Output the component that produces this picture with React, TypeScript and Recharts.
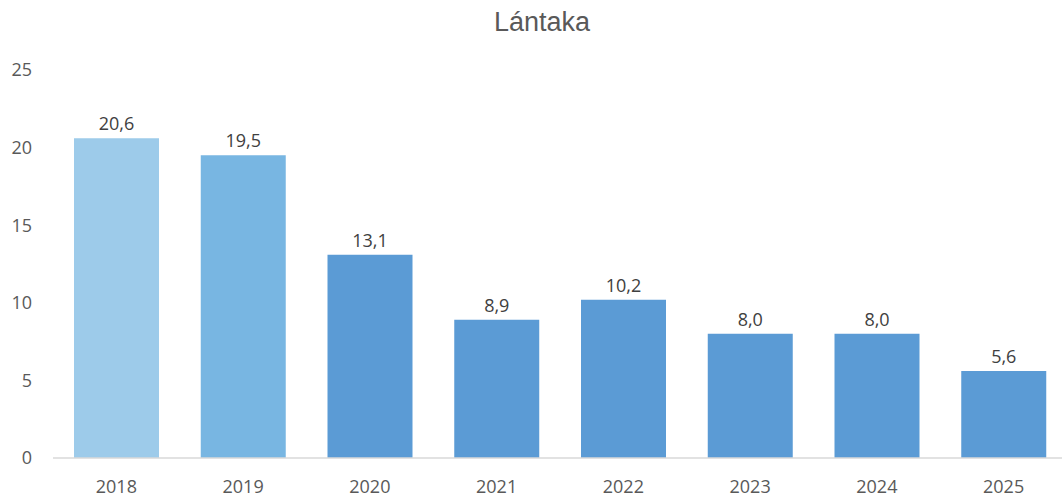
import { Bar, BarChart, Cell, LabelList, XAxis, YAxis } from "recharts";

const years = ["2018", "2019", "2020", "2021", "2022", "2023", "2024", "2025"];
const values = [20.6, 19.5, 13.1, 8.9, 10.2, 8.0, 8.0, 5.6];
const barColors = [
  "#9DCBEA",
  "#78B6E2",
  "#5B9BD5",
  "#5B9BD5",
  "#5B9BD5",
  "#5B9BD5",
  "#5B9BD5",
  "#5B9BD5",
];
const yTicks = [0, 5, 10, 15, 20, 25];

const data = years.map((year, i) => ({ year, value: values[i] }));

const tickFont = { fontFamily: "'Open Sans', sans-serif", fontSize: 18, fill: "#595959" };

// decimal comma, one digit
const fmt = (v: number) => v.toFixed(1).replace(".", ",");

export default function App() {
  return (
    <div
      style={{
        position: "absolute",
        left: 0,
        top: 0,
        width: 1062,
        height: 497,
        overflow: "hidden",
        background: "#fff",
      }}
    >
      <BarChart
        width={1068}
        height={497}
        data={data}
        margin={{ top: 70, right: 1, bottom: 0, left: 0 }}
      >
        <text
          x={542}
          y={31}
          textAnchor="middle"
          style={{ fontFamily: "'Liberation Sans', Arial, sans-serif", fontSize: 27, fill: "#595959" }}
        >
          Lántaka
        </text>
        <XAxis
          dataKey="year"
          height={39}
          tick={tickFont}
          tickLine={false}
          tickSize={0}
          tickMargin={22}
          axisLine={{ stroke: "#D9D9D9", strokeWidth: 1.5 }}
        />
        <YAxis
          domain={[0, 25]}
          ticks={yTicks}
          width={53}
          tick={tickFont}
          tickLine={false}
          tickSize={0}
          tickMargin={21}
          axisLine={false}
        />
        <Bar dataKey="value" barSize={85} isAnimationActive={false}>
          {data.map((d, i) => (
            <Cell key={d.year} fill={barColors[i]} />
          ))}
          <LabelList
            dataKey="value"
            position="top"
            offset={8}
            formatter={(v: number) => fmt(v)}
            style={{ fontFamily: "'Open Sans', sans-serif", fontSize: 18, fill: "#404040" }}
          />
        </Bar>
      </BarChart>
    </div>
  );
}
